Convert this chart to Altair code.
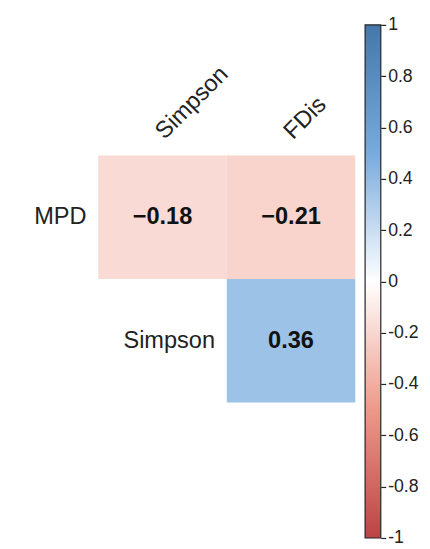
import altair as alt
import pandas as pd

# ---- data ----
rows = ["MPD", "MPD", "Simpson"]
cols = ["Simpson", "FDis", "FDis"]
values = [-0.18, -0.21, 0.36]

row_order = ["MPD", "Simpson"]
col_order = ["Simpson", "FDis"]

# row labels sit next to the first shown cell of each row (upper triangle)
row_label_rows = ["MPD", "Simpson"]
row_label_cols = ["Simpson", "FDis"]

color_stops = [-1, -0.5, 0, 0.5, 1]
color_range = ["#BB4444", "#EE9988", "#FFFFFF", "#77AADD", "#4477AA"]
bar_ticks = [-1, -0.8, -0.6, -0.4, -0.2, 0, 0.2, 0.4, 0.6, 0.8, 1]

FONT = "Liberation Sans"

cells = pd.DataFrame({"row": rows, "col": cols, "r": values})
rowlab = pd.DataFrame({"row": row_label_rows, "col": row_label_cols})
collab = pd.DataFrame({"col": col_order, "row": [row_order[0]] * len(col_order)})
bar = pd.DataFrame({"lo": [bar_ticks[0]], "hi": [bar_ticks[-1]]})

xs = alt.Scale(domain=col_order, range=[92, 354], paddingInner=0, paddingOuter=0)
ys = alt.Scale(domain=row_order, range=[145, 397], paddingInner=0, paddingOuter=0)
cs = alt.Scale(domain=color_stops, range=color_range, interpolate="rgb")

X = alt.X("col:N", scale=xs, axis=None)
Y = alt.Y("row:N", scale=ys, axis=None)

heat = alt.Chart(cells).mark_rect().encode(
    x=X, y=Y, color=alt.Color("r:Q", scale=cs, legend=None)
)

txt = alt.Chart(cells).mark_text(
    font=FONT, fontSize=24, fontWeight="bold", color="#111111"
).encode(x=X, y=Y, text=alt.Text("r:Q", format=".2f"))

rl = alt.Chart(rowlab).mark_text(
    font=FONT, fontSize=24, align="right", baseline="middle", dx=-12, color="#222222"
).encode(
    x=alt.X("col:N", scale=xs, axis=None, bandPosition=0),
    y=Y,
    text="row:N",
)

# column labels: anchored at the centre of the first row's band, then shifted
# (in the rotated text frame) up to just above the top of the grid
cl = alt.Chart(collab).mark_text(
    font=FONT, fontSize=24, align="left", baseline="alphabetic",
    angle=315, dx=57, dy=-54, color="#222222"
).encode(
    x=X,
    y=Y,
    text="col:N",
)

grad = alt.Gradient(
    gradient="linear",
    stops=[alt.GradientStop(offset=(s + 1) / 2, color=c) for s, c in zip(color_stops, color_range)],
    x1=0, x2=0, y1=1, y2=0,
)

cbar = alt.Chart(bar).mark_rect(fill=grad, stroke="#222222", strokeWidth=1.2).encode(
    x=alt.value(364),
    x2=alt.value(380),
    y=alt.Y(
        "lo:Q",
        scale=alt.Scale(domain=[-1, 1], range=[535, 12]),
        axis=alt.Axis(
            orient="right", values=bar_ticks, domain=False, grid=False, title=None,
            ticks=True, tickSize=5, tickColor="#222222", tickWidth=1.2,
            labelFont=FONT, labelFontSize=18, labelColor="#222222", labelPadding=2,
            labelExpr="replace(format(datum.value, '.1~f'), '\u2212', '-')",
        ),
    ),
    y2="hi:Q",
)

chart = (
    alt.layer(heat, txt, rl, cl, cbar)
    .resolve_scale(y="independent")
    .properties(
        width=380, height=541,
        autosize=alt.AutoSizeParams(type="none"),
        padding={"left": 0, "top": 0, "right": 42, "bottom": 0},
    )
    .configure_view(stroke=None)
)

chart.save("out.html", embed_options={"renderer": "svg", "actions": False})
